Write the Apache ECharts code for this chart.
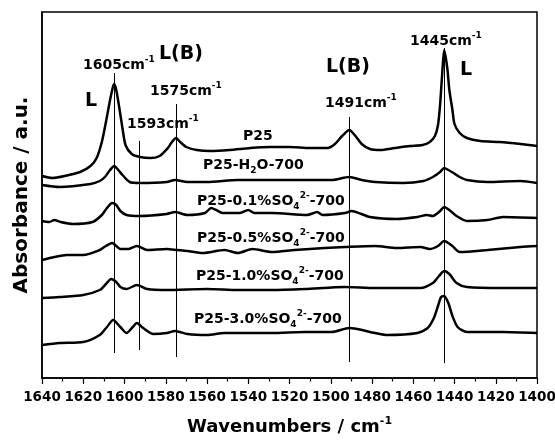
<!DOCTYPE html>
<html><head><meta charset="utf-8">
<script src="https://cdn.jsdelivr.net/npm/echarts@6/dist/echarts.min.js"></script>
<style>html,body{margin:0;padding:0;background:#fff}#c{width:555px;height:444px}</style>
</head><body><div id="c"></div>
<script>
// wavenumber (cm-1), absorbance (a.u., stacked offsets)
const specP25 = [[1640,2.02],[1635,2.00],[1629,2.02],[1621.5,2.06],[1616.5,2.12],[1613.5,2.20],[1611,2.36],[1609,2.56],[1607,2.78],[1605.5,2.92],[1605,2.94],[1604,2.88],[1602.5,2.70],[1601,2.50],[1599.5,2.33],[1596.5,2.24],[1592.5,2.21],[1587.5,2.20],[1583,2.22],[1579,2.30],[1577,2.36],[1575,2.40],[1573,2.36],[1570,2.31],[1565,2.28],[1558.5,2.27],[1549,2.28],[1539,2.30],[1529.5,2.31],[1520,2.31],[1510,2.30],[1501.5,2.30],[1498,2.34],[1494.5,2.42],[1491,2.48],[1488,2.42],[1485,2.34],[1481,2.29],[1476,2.28],[1469,2.30],[1461.5,2.32],[1455.5,2.33],[1452,2.36],[1449.5,2.42],[1448,2.53],[1447,2.73],[1446,3.03],[1445,3.28],[1443.5,3.10],[1442.5,2.88],[1441,2.68],[1440,2.54],[1437.5,2.45],[1434,2.40],[1427.5,2.37],[1418,2.36],[1408,2.34],[1400,2.32]];
const specH2O = [[1640,1.93],[1631.5,1.91],[1616.5,1.94],[1612,1.97],[1609.5,2.01],[1607,2.08],[1605,2.12],[1603,2.08],[1601,2.03],[1597.5,1.96],[1592.5,1.95],[1579.5,1.96],[1575.5,1.98],[1569.5,1.96],[1560,1.96],[1545,1.98],[1512.5,1.98],[1499.5,1.98],[1491,2.01],[1485,1.98],[1478.5,1.96],[1465,1.95],[1455,1.97],[1450.5,2.01],[1447,2.06],[1445,2.10],[1443,2.08],[1440.5,2.05],[1437.5,2.01],[1434,1.98],[1424,1.96],[1408,1.97],[1400,1.95]];
const spec01 = [[1640,1.57],[1636.5,1.56],[1634,1.58],[1631,1.56],[1625,1.54],[1615.5,1.56],[1611,1.63],[1608.5,1.70],[1606,1.75],[1604,1.73],[1602,1.67],[1599,1.63],[1592.5,1.62],[1579.5,1.64],[1575.5,1.66],[1569.5,1.63],[1561,1.65],[1558,1.70],[1555.5,1.68],[1552.5,1.65],[1544,1.65],[1540,1.68],[1537,1.65],[1528.5,1.65],[1511.5,1.63],[1506.5,1.66],[1504,1.63],[1493,1.65],[1490,1.67],[1481,1.61],[1468,1.59],[1458,1.61],[1453.5,1.63],[1450.5,1.62],[1447,1.67],[1445,1.71],[1442.5,1.68],[1439,1.62],[1434,1.57],[1424,1.58],[1416.5,1.61],[1400,1.60]];
const spec05 = [[1640,1.18],[1634,1.21],[1628,1.23],[1620,1.23],[1612,1.28],[1609,1.32],[1606,1.35],[1602,1.29],[1598,1.29],[1594,1.32],[1589,1.28],[1579.5,1.29],[1574.5,1.28],[1569.5,1.27],[1562,1.25],[1551.5,1.28],[1545,1.25],[1538,1.29],[1528.5,1.26],[1517.5,1.28],[1503,1.30],[1493,1.31],[1478.5,1.32],[1468,1.30],[1456.5,1.31],[1452,1.29],[1448,1.32],[1445,1.37],[1441,1.32],[1437.5,1.26],[1424,1.28],[1408,1.31],[1400,1.32]];
const spec10 = [[1640,0.80],[1631.5,0.81],[1620,0.83],[1612,0.88],[1609,0.94],[1606.5,0.99],[1604,0.96],[1602,0.91],[1599,0.89],[1594,0.93],[1589,0.89],[1579.5,0.88],[1560,0.89],[1545,0.88],[1528.5,0.88],[1512.5,0.89],[1493,0.91],[1478.5,0.90],[1456.5,0.90],[1450.5,0.95],[1447.5,1.02],[1445,1.07],[1442.5,1.04],[1439,0.95],[1434,0.91],[1416.5,0.90],[1400,0.90]];
const spec30 = [[1640,0.33],[1631.5,0.35],[1620,0.36],[1612,0.43],[1608.5,0.51],[1605.5,0.58],[1602,0.51],[1599,0.45],[1596,0.51],[1594,0.55],[1591,0.50],[1586,0.44],[1579.5,0.45],[1575.5,0.47],[1569.5,0.44],[1560,0.43],[1551.5,0.45],[1541.5,0.45],[1528.5,0.45],[1512.5,0.46],[1499.5,0.46],[1491,0.50],[1478.5,0.45],[1472.5,0.43],[1458,0.45],[1453,0.50],[1450,0.60],[1448,0.72],[1446.5,0.81],[1445,0.82],[1443,0.75],[1441,0.62],[1438.5,0.51],[1434,0.46],[1416.5,0.46],[1400,0.45]];
const seriesNames = ['P25','P25-H2O-700','P25-0.1%SO4 2- -700','P25-0.5%SO4 2- -700','P25-1.0%SO4 2- -700','P25-3.0%SO4 2- -700'];
const seriesData = [specP25, specH2O, spec01, spec05, spec10, spec30];
// marked band positions (cm-1) and vertical extent of each guide line (a.u.)
const peakWavenumbers = [1605, 1593, 1575, 1491, 1445];
const peakLineTop = [3.05, 2.37, 2.74, 2.61, 3.30];
const peakLineBottom = [0.25, 0.28, 0.21, 0.16, 0.15];
const xTickMin = 1400, xTickMax = 1640, xTickStep = 20;

const FONT = 'DejaVu Sans';
const chart = echarts.init(document.getElementById('c'));
const richStyles = {
  m: {fontFamily: FONT, fontWeight: 'bold', fontSize: 14, lineHeight: 20, fill: '#000', color: '#000'},
  sup: {fontFamily: FONT, fontWeight: 'bold', fontSize: 9, lineHeight: 6, verticalAlign: 'top', fill: '#000', color: '#000'},
  sub: {fontFamily: FONT, fontWeight: 'bold', fontSize: 9, lineHeight: 8, verticalAlign: 'bottom', fill: '#000', color: '#000'},
  big: {fontFamily: FONT, fontWeight: 'bold', fontSize: 19, lineHeight: 22, fill: '#000', color: '#000'}
};
function label(x, y, text) {
  return {type: 'text', x: x, y: y, silent: true, z: 100,
    style: {text: text, rich: richStyles, fill: '#000', textAlign: 'left', align: 'left', textVerticalAlign: 'middle', verticalAlign: 'middle',
      fontFamily: FONT, fontWeight: 'bold', fontSize: 14}};
}
const graphics = [
  label(85, 101, '{big|L}'),
  label(83, 65, '{m|1605cm}{sup|-1}'),
  label(159, 54, '{big|L(B)}'),
  label(150, 91, '{m|1575cm}{sup|-1}'),
  label(127, 124, '{m|1593cm}{sup|-1}'),
  label(326, 67, '{big|L(B)}'),
  label(325, 103, '{m|1491cm}{sup|-1}'),
  label(410, 41, '{m|1445cm}{sup|-1}'),
  label(460, 70, '{big|L}'),
  label(243, 136, '{m|P25}'),
  label(203, 165, '{m|P25-H}{sub|2}{m|O-700}'),
  label(197, 201, '{m|P25-0.1%SO}{sub|4}{sup|2-}{m|-700}'),
  label(197, 238, '{m|P25-0.5%SO}{sub|4}{sup|2-}{m|-700}'),
  label(196, 276, '{m|P25-1.0%SO}{sub|4}{sup|2-}{m|-700}'),
  label(194, 319, '{m|P25-3.0%SO}{sub|4}{sup|2-}{m|-700}')
];
const series = seriesData.map((d, i) => ({
  name: seriesNames[i], type: 'line', data: d, showSymbol: false, smooth: 0.25,
  lineStyle: {color: '#000', width: 2.5}, itemStyle: {color: '#000'}, z: 3
}));
series[0].markLine = {
  silent: true, symbol: 'none', animation: false,
  lineStyle: {color: '#000', width: 1, type: 'solid'},
  label: {show: false},
  data: peakWavenumbers.map((w, i) => [{coord: [w, peakLineTop[i]]}, {coord: [w, peakLineBottom[i]]}])
};
chart.setOption({
  animation: false,
  backgroundColor: '#fff',
  grid: {left: 42, right: 18, top: 12, bottom: 66, show: true, borderColor: '#000', borderWidth: 1.5,
    backgroundColor: 'transparent', containLabel: false, outerBoundsMode: 'none'},
  xAxis: {
    type: 'value', inverse: true, min: xTickMin, max: xTickMax, interval: xTickStep,
    axisLine: {show: true, onZero: false, lineStyle: {color: '#000', width: 1.5}},
    axisTick: {show: true, inside: false, length: 6, lineStyle: {color: '#000', width: 1.2}},
    minorTick: {show: true, splitNumber: 2, length: 3.5, lineStyle: {color: '#000', width: 1.2}},
    splitLine: {show: false},
    axisLabel: {color: '#000', fontFamily: FONT, fontWeight: 'bold', fontSize: 13.5, margin: 12,
      showMinLabel: true, showMaxLabel: true, hideOverlap: false, formatter: v => String(v)},
    name: '{a|Wavenumbers / cm}{s|-1}', nameLocation: 'middle', nameGap: 38,
    nameTextStyle: {color: '#000', fontFamily: FONT, fontWeight: 'bold', fontSize: 18,
      rich: {a: {fontFamily: FONT, fontWeight: 'bold', fontSize: 18, lineHeight: 22, color: '#000'},
             s: {fontFamily: FONT, fontWeight: 'bold', fontSize: 11, lineHeight: 8, verticalAlign: 'top', color: '#000'}}}
  },
  yAxis: {
    type: 'value', min: 0, max: 3.66,
    axisLine: {show: true, lineStyle: {color: '#000', width: 1.5}},
    axisTick: {show: false}, axisLabel: {show: false}, splitLine: {show: false},
    name: 'Absorbance / a.u.', nameLocation: 'middle', nameGap: 10, nameRotate: 90,
    nameTextStyle: {color: '#000', fontFamily: FONT, fontWeight: 'bold', fontSize: 20}
  },
  series: series,
  graphic: graphics
});
</script></body></html>
